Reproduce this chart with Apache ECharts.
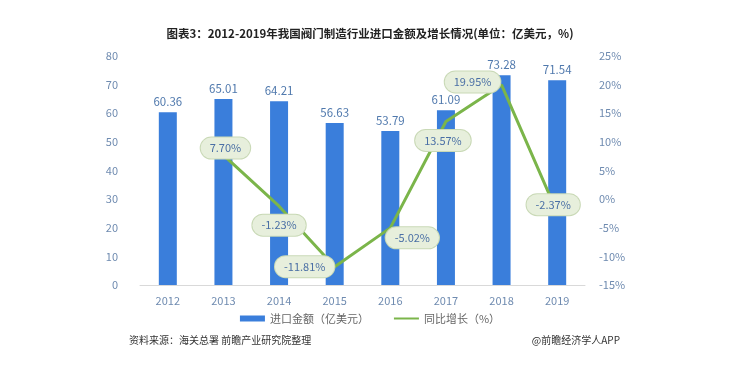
<!DOCTYPE html>
<html>
<head>
<meta charset="utf-8">
<script src="https://cdn.jsdelivr.net/npm/echarts@6/dist/echarts.min.js"></script>
<style>
  html, body { margin: 0; padding: 0; background: #fff; }
  #main { width: 740px; height: 378px; }
</style>
</head>
<body>
<div id="main"></div>
<script>
// 数据
var years = ['2012', '2013', '2014', '2015', '2016', '2017', '2018', '2019'];
var importValue = [60.36, 65.01, 64.21, 56.63, 53.79, 61.09, 73.28, 71.54];
var growthRate = ['-', 7.70, -1.23, -11.81, -5.02, 13.57, 19.95, -2.37];
// 标签偏移（椭圆标签相对数据点）
var labelOffsets = [null, [2, -7], [0, 19], [-30, 0], [22, 10], [-3, 19], [-29, -3], [-4, -8]];

var chartDom = document.getElementById('main');
var myChart = echarts.init(chartDom);
var font = '"Noto Sans CJK SC", sans-serif';

var lineData = growthRate.map(function (v, i) {
    if (v === '-') return '-';
    return {
        value: v,
        label: { offset: labelOffsets[i] }
    };
});

var option = {
    title: {
        text: '图表3：2012-2019年我国阀门制造行业进口金额及增长情况(单位：亿美元，%)',
        left: 'center',
        top: 23,
        textStyle: { fontFamily: font, fontSize: 11.5, fontWeight: 'bold', color: '#222' }
    },
    legend: {
        bottom: 49,
        left: 'center',
        itemGap: 24,
        itemWidth: 25,
        itemHeight: 6,
        textStyle: { fontFamily: font, fontSize: 11, color: '#666' },
        data: [
            { name: '进口金额（亿美元）', icon: 'rect' },
            { name: '同比增长（%）', itemStyle: { opacity: 0 } }
        ]
    },
    grid: { left: 140, right: 155, top: 56, bottom: 93 },
    xAxis: {
        type: 'category',
        data: years,
        axisTick: { show: false },
        axisLine: { lineStyle: { color: '#d9d9d9' } },
        axisLabel: { color: '#6f8bb0', fontSize: 11, margin: 10, fontFamily: font }
    },
    yAxis: [
        {
            type: 'value',
            min: 0, max: 80, interval: 10,
            splitLine: { show: false },
            axisLine: { show: false },
            axisLabel: { color: '#6f8bb0', fontSize: 11, margin: 22, fontFamily: font }
        },
        {
            type: 'value',
            min: -15, max: 25, interval: 5,
            splitLine: { show: false },
            axisLine: { show: false },
            axisLabel: { color: '#6f8bb0', fontSize: 11, margin: 14, formatter: '{value}%', fontFamily: font }
        }
    ],
    series: [
        {
            name: '进口金额（亿美元）',
            type: 'bar',
            barWidth: 18,
            itemStyle: { color: '#3a7edb' },
            label: {
                show: true, position: 'top', distance: 5,
                color: '#5079ad', fontSize: 11.5, fontFamily: font,
                formatter: function (p) { return p.value.toFixed(2); }
            },
            data: importValue
        },
        {
            name: '同比增长（%）',
            type: 'line',
            yAxisIndex: 1,
            symbol: 'circle',
            symbolSize: 1,
            lineStyle: { color: '#7bb54a', width: 3 },
            itemStyle: { color: '#7bb54a' },
            label: {
                show: true,
                position: 'inside',
                backgroundColor: '#e7efdc',
                borderColor: '#c9d9b6',
                borderWidth: 1,
                borderRadius: 12,
                padding: [5, 9],
                color: '#4a6fa5',
                fontSize: 11,
                fontFamily: font,
                formatter: function (p) { return p.value.toFixed(2) + '%'; }
            },
            data: lineData
        }
    ],
    graphic: [
        {
            type: 'text', left: 129, top: 335,
            style: { text: '资料来源：海关总署 前瞻产业研究院整理', fill: '#333', font: '10px ' + font }
        },
        {
            type: 'text', right: 120, top: 335,
            style: { text: '@前瞻经济学人APP', fill: '#333', font: '10px ' + font }
        }
    ]
};

option && myChart.setOption(option);
</script>
</body>
</html>
